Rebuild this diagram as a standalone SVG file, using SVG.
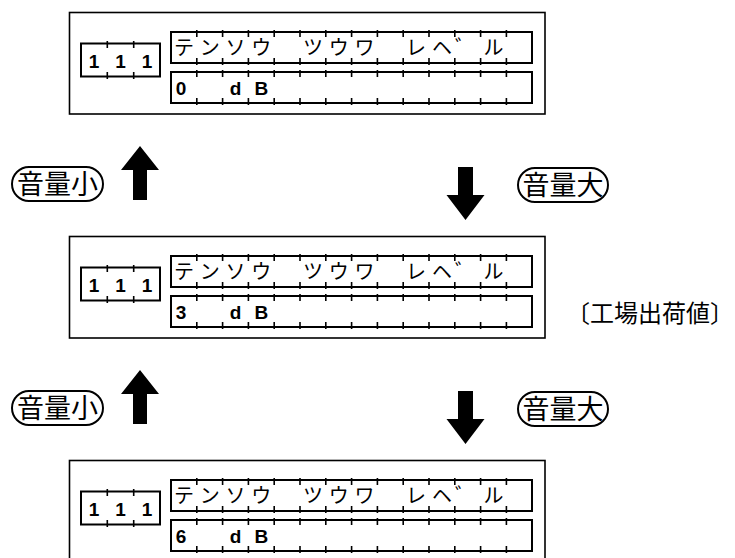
<svg xmlns="http://www.w3.org/2000/svg" xmlns:xlink="http://www.w3.org/1999/xlink" width="735" height="558" viewBox="0 0 735 558">
<style>
.outer{fill:#fff;stroke:#000;stroke-width:1.6}
.box{fill:#fff;stroke:#000;stroke-width:2}
.tick{fill:none;stroke:#000;stroke-width:1.6}
.kana{font-family:"Noto Sans CJK JP",sans-serif;font-size:20px;font-weight:400;text-anchor:middle;fill:#000}
.dig{font-family:"Liberation Sans",Arial,sans-serif;font-size:19px;font-weight:bold;text-anchor:middle;fill:#000}
.lab{font-family:"Noto Sans CJK JP",sans-serif;font-size:27px;fill:#000;text-anchor:middle}
.pill{fill:#fff;stroke:#000;stroke-width:2}
.arr{fill:#000;stroke:none}
</style>
<defs>
<path id="rowticks" d="M196.8 -2v7M196.8 26v7M222.6 -2v7M222.6 26v7M248.4 -2v7M248.4 26v7M274.2 -2v7M274.2 26v7M300 -2v7M300 26v7M325.8 -2v7M325.8 26v7M351.6 -2v7M351.6 26v7M377.4 -2v7M377.4 26v7M403.2 -2v7M403.2 26v7M429 -2v7M429 26v7M454.8 -2v7M454.8 26v7M480.6 -2v7M480.6 26v7M506.4 -2v7M506.4 26v7"/>
<path id="boxticks" d="M107.3 41v7M107.3 72v7M133.7 41v7M133.7 72v7"/>
</defs>

<g id="panel1">
<rect class="outer" x="69.5" y="12.5" width="475.5" height="101.5"/>
<rect class="box" x="81" y="43.5" width="79" height="33"/>
<use xlink:href="#boxticks" class="tick"/>
<text class="dig" x="94" y="68">1</text><text class="dig" x="120.5" y="68">1</text><text class="dig" x="147" y="68">1</text>
<rect class="box" x="171" y="32" width="361" height="31"/>
<use xlink:href="#rowticks" class="tick" y="32"/>
<rect class="box" x="171" y="72" width="361" height="31"/>
<use xlink:href="#rowticks" class="tick" y="72"/>
<text class="kana" y="54.5"><tspan x="184">テ</tspan><tspan x="209.7">ン</tspan><tspan x="235.5">ソ</tspan><tspan x="261.3">ウ</tspan><tspan x="312.9">ツ</tspan><tspan x="338.7">ウ</tspan><tspan x="364.5">ワ</tspan><tspan x="416.1">レ</tspan><tspan x="441.9">ヘ</tspan><tspan x="465">゛</tspan><tspan x="493.5">ル</tspan></text>
<text class="dig" y="95" font-size="20"><tspan x="181">0</tspan><tspan x="235.5">d</tspan><tspan x="261.3">B</tspan></text>
</g>

<g id="panel2" transform="translate(0,224)">
<rect class="outer" x="69.5" y="12.5" width="475.5" height="101.5"/>
<rect class="box" x="81" y="43.5" width="79" height="33"/>
<use xlink:href="#boxticks" class="tick"/>
<text class="dig" x="94" y="68">1</text><text class="dig" x="120.5" y="68">1</text><text class="dig" x="147" y="68">1</text>
<rect class="box" x="171" y="32" width="361" height="31"/>
<use xlink:href="#rowticks" class="tick" y="32"/>
<rect class="box" x="171" y="72" width="361" height="31"/>
<use xlink:href="#rowticks" class="tick" y="72"/>
<text class="kana" y="54.5"><tspan x="184">テ</tspan><tspan x="209.7">ン</tspan><tspan x="235.5">ソ</tspan><tspan x="261.3">ウ</tspan><tspan x="312.9">ツ</tspan><tspan x="338.7">ウ</tspan><tspan x="364.5">ワ</tspan><tspan x="416.1">レ</tspan><tspan x="441.9">ヘ</tspan><tspan x="465">゛</tspan><tspan x="493.5">ル</tspan></text>
<text class="dig" y="95" font-size="20"><tspan x="181">3</tspan><tspan x="235.5">d</tspan><tspan x="261.3">B</tspan></text>
</g>

<g id="panel3" transform="translate(0,448)">
<rect class="outer" x="69.5" y="12.5" width="475.5" height="101.5"/>
<rect class="box" x="81" y="43.5" width="79" height="33"/>
<use xlink:href="#boxticks" class="tick"/>
<text class="dig" x="94" y="68">1</text><text class="dig" x="120.5" y="68">1</text><text class="dig" x="147" y="68">1</text>
<rect class="box" x="171" y="32" width="361" height="31"/>
<use xlink:href="#rowticks" class="tick" y="32"/>
<rect class="box" x="171" y="72" width="361" height="31"/>
<use xlink:href="#rowticks" class="tick" y="72"/>
<text class="kana" y="54.5"><tspan x="184">テ</tspan><tspan x="209.7">ン</tspan><tspan x="235.5">ソ</tspan><tspan x="261.3">ウ</tspan><tspan x="312.9">ツ</tspan><tspan x="338.7">ウ</tspan><tspan x="364.5">ワ</tspan><tspan x="416.1">レ</tspan><tspan x="441.9">ヘ</tspan><tspan x="465">゛</tspan><tspan x="493.5">ル</tspan></text>
<text class="dig" y="95" font-size="20"><tspan x="181">6</tspan><tspan x="235.5">d</tspan><tspan x="261.3">B</tspan></text>
</g>

<g id="connectors">
<path class="arr" d="M140 146L159 170H147V200H133V170H121Z"/>
<path class="arr" d="M465.5 220L484.5 195H473V167H458V195H446.5Z"/>
<path class="arr" d="M140 370L159 394H147V424H133V394H121Z"/>
<path class="arr" d="M465.5 444L484.5 419H473V391H458V419H446.5Z"/>
</g>

<g id="label-down1">
<rect class="pill" x="12" y="167" width="91" height="34" rx="17"/>
<text class="lab" x="57.5" y="194">音量小</text>
</g>
<g id="label-up1">
<rect class="pill" x="518" y="168" width="90" height="34" rx="17"/>
<text class="lab" x="563" y="195">音量大</text>
</g>
<g id="label-down2">
<rect class="pill" x="12" y="391" width="91" height="34" rx="17"/>
<text class="lab" x="57.5" y="418">音量小</text>
</g>
<g id="label-up2">
<rect class="pill" x="518" y="392" width="90" height="34" rx="17"/>
<text class="lab" x="563" y="419">音量大</text>
</g>
<g id="factory-note">
<text x="566" y="322" font-family="Noto Sans CJK JP, sans-serif" font-size="24" fill="#000">〔工場出荷値〕</text>
</g>
</svg>
